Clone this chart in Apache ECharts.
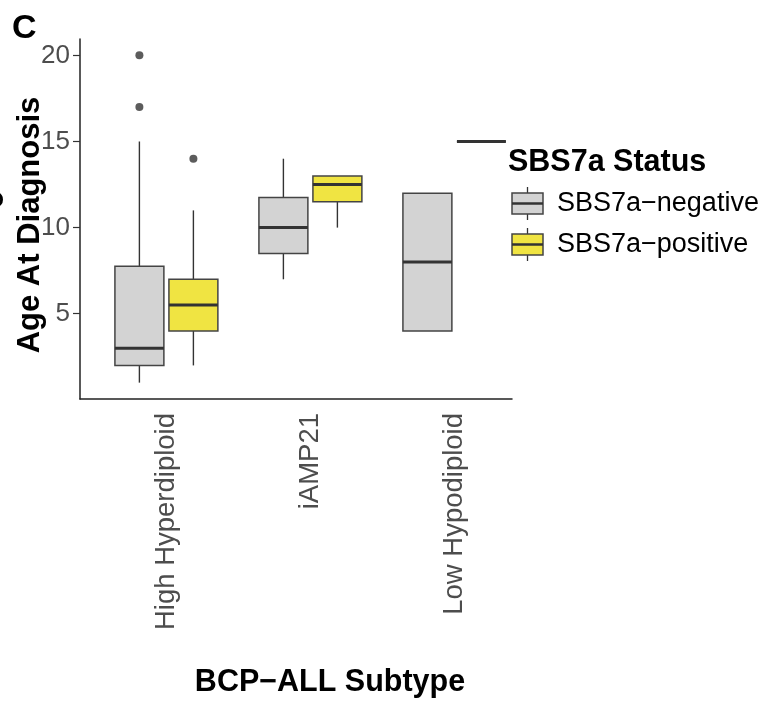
<!DOCTYPE html>
<html>
<head>
<meta charset="utf-8">
<script src="https://cdn.jsdelivr.net/npm/echarts@6/dist/echarts.min.js"></script>
<style>
html,body{margin:0;padding:0;background:#fff;}
#chart{width:771px;height:701px;}
</style>
</head>
<body>
<div id="chart"></div>
<script>
// ---- Data ----
const categories = ['High Hyperdiploid', 'iAMP21', 'Low Hypodiploid'];
// [lower whisker, Q1, median, Q3, upper whisker]
const negativeStats = [
  [1, 2, 3, 7.75, 15],
  [7, 8.5, 10, 11.75, 14],
  [4, 4, 8, 12, 12]
];
const positiveStats = [
  [2, 4, 5.5, 7, 11],
  [10, 11.5, 12.5, 13, 13],
  [15, 15, 15, 15, 15]
];
// [category index, value]
const negativeOutliers = [[0, 17], [0, 20]];
const positiveOutliers = [[0, 14]];
const yTicks = [5, 10, 15, 20];
const seriesNames = ['SBS7a\u2212negative', 'SBS7a\u2212positive'];

// ---- Style / layout ----
const FONT = '"Liberation Sans", Arial, Helvetica, sans-serif';
const COLORS = ['#D3D3D3', '#F0E442'];
const DODGE = 0.1875;
const BOX_W = 0.34;
const EDGE = '#333333';

function boxRenderer(fill) {
  return function (params, api) {
    const x = api.value(0);
    const low = api.coord([x, api.value(1)]);
    const q1 = api.coord([x, api.value(2)]);
    const med = api.coord([x, api.value(3)]);
    const q3 = api.coord([x, api.value(4)]);
    const high = api.coord([x, api.value(5)]);
    const hw = api.size([BOX_W, 0])[0] / 2;
    const cx = med[0];
    return {
      type: 'group',
      children: [
        { type: 'line', shape: { x1: cx, y1: high[1], x2: cx, y2: q3[1] }, style: { stroke: EDGE, lineWidth: 1.4 } },
        { type: 'line', shape: { x1: cx, y1: q1[1], x2: cx, y2: low[1] }, style: { stroke: EDGE, lineWidth: 1.4 } },
        { type: 'rect', shape: { x: cx - hw, y: q3[1], width: 2 * hw, height: q1[1] - q3[1] }, style: { fill: fill, stroke: '#444', lineWidth: 1.5 } },
        { type: 'line', shape: { x1: cx - hw, y1: med[1], x2: cx + hw, y2: med[1] }, style: { stroke: EDGE, lineWidth: 3 } }
      ]
    };
  };
}

const negData = negativeStats.map((s, i) => [i + 1 - DODGE].concat(s));
const posData = positiveStats.map((s, i) => [i + 1 + DODGE].concat(s));
const negOut = negativeOutliers.map(d => [d[0] + 1 - DODGE, d[1]]);
const posOut = positiveOutliers.map(d => [d[0] + 1 + DODGE, d[1]]);

const chart = echarts.init(document.getElementById('chart'), null, { renderer: 'canvas' });

// legend drawn as ggplot-style keys
function legendKey(top, fill) {
  const left = 512, w = 31, h = 21, cx = left + w / 2;
  return [
    { type: 'line', shape: { x1: cx, y1: top - 6, x2: cx, y2: top + h + 6 }, style: { stroke: EDGE, lineWidth: 1.3 } },
    { type: 'rect', shape: { x: left, y: top, width: w, height: h }, style: { fill: fill, stroke: '#444', lineWidth: 1.5 } },
    { type: 'line', shape: { x1: left, y1: top + h / 2, x2: left + w, y2: top + h / 2 }, style: { stroke: EDGE, lineWidth: 2.5 } }
  ];
}

const graphics = [
  { type: 'text', left: 12, top: 12, style: { text: 'C', font: 'bold 34px ' + FONT, fill: '#000' } },
  { type: 'text', x: -6, y: 200, rotation: Math.PI / 2, style: { text: 'e', font: 'bold 31px ' + FONT, fill: '#000', align: 'center', verticalAlign: 'middle' } },
  { type: 'text', left: 508, top: 147, style: { text: 'SBS7a Status', font: 'bold 30.5px ' + FONT, fill: '#000' } }
].concat(legendKey(193, COLORS[0]), legendKey(234, COLORS[1]), [
  { type: 'text', x: 557, y: 204, style: { text: seriesNames[0], font: '27px ' + FONT, fill: '#000', verticalAlign: 'middle' } },
  { type: 'text', x: 557, y: 245, style: { text: seriesNames[1], font: '27px ' + FONT, fill: '#000', verticalAlign: 'middle' } }
]);

chart.setOption({
  animation: false,
  backgroundColor: '#fff',
  grid: { left: 80, right: 771 - 512, top: 39, bottom: 701 - 399, containLabel: false, outerBoundsMode: 'none' },
  xAxis: {
    type: 'value', min: 0.4, max: 3.4,
    name: 'BCP\u2212ALL Subtype', nameLocation: 'middle', nameGap: 268, nameMoveOverlap: false,
    nameTextStyle: { fontFamily: FONT, fontWeight: 'bold', fontSize: 30.5, color: '#000', padding: [0, 0, 0, 68] },
    axisLine: { show: true, onZero: false, lineStyle: { color: '#222', width: 1.5 } },
    axisTick: { show: false },
    splitLine: { show: false },
    axisLabel: {
      customValues: [1, 2, 3], rotate: 90, margin: 14,
      formatter: v => categories[Math.round(v) - 1] || '',
      fontFamily: FONT, fontSize: 27.5, color: '#4D4D4D'
    }
  },
  yAxis: {
    type: 'value', min: 0.05, max: 20.95,
    name: 'Age At Diagnosis', nameLocation: 'middle', nameGap: 34, nameRotate: 90, nameMoveOverlap: false,
    nameTextStyle: { fontFamily: FONT, fontWeight: 'bold', fontSize: 31, color: '#000', padding: [0, 12, 0, 0] },
    axisLine: { show: true, lineStyle: { color: '#222', width: 1.5 } },
    axisTick: { show: true, customValues: yTicks, length: 7, lineStyle: { color: '#333', width: 1.2 } },
    splitLine: { show: false },
    axisLabel: { customValues: yTicks, margin: 10, fontFamily: FONT, fontSize: 26, color: '#4D4D4D' }
  },
  series: [
    { name: seriesNames[0], type: 'custom', renderItem: boxRenderer(COLORS[0]), data: negData, encode: { x: 0, y: [1, 2, 3, 4, 5] }, z: 2 },
    { name: seriesNames[1], type: 'custom', renderItem: boxRenderer(COLORS[1]), data: posData, encode: { x: 0, y: [1, 2, 3, 4, 5] }, z: 2 },
    { name: seriesNames[0] + ' outliers', type: 'scatter', data: negOut, symbolSize: 8, itemStyle: { color: '#333' }, z: 3 },
    { name: seriesNames[1] + ' outliers', type: 'scatter', data: posOut, symbolSize: 8, itemStyle: { color: '#333' }, z: 3 }
  ],
  graphic: graphics
});
</script>
</body>
</html>
